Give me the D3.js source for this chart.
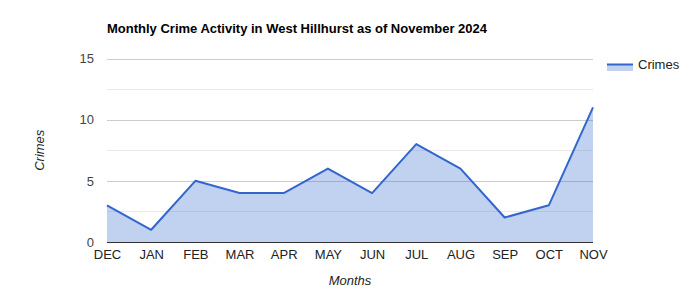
<!DOCTYPE html>
<html><head><meta charset="utf-8">
<script src="https://cdn.jsdelivr.net/npm/d3@7"></script>
<style>body{margin:0;background:#fff}svg{display:block;font-family:"Liberation Sans",Arial,sans-serif}</style>
</head><body><svg id="c" width="700" height="300"></svg>
<script>
const months = ["DEC","JAN","FEB","MAR","APR","MAY","JUN","JUL","AUG","SEP","OCT","NOV"];
const crimes = [3,1,5,4,4,6,4,8,6,2,3,11];
const yTicks = [0,5,10,15];
const yMinor = [2.5,7.5,12.5];
const seriesName = "Crimes";
const titleText = "Monthly Crime Activity in West Hillhurst as of November 2024";

const svg = d3.select("#c");
const L=107, R=593, T=58.5, B=242;
const x = d3.scalePoint().domain(months).range([L,R]);
const y = d3.scaleLinear().domain([0,15]).range([B,T]);

svg.append("text").attr("x",107).attr("y",33).attr("font-size",13).attr("font-weight","bold").attr("fill","#000").text(titleText);

svg.selectAll(".minor").data(yMinor).join("line")
  .attr("x1",L).attr("x2",R).attr("y1",d=>Math.round(y(d))+0.5).attr("y2",d=>Math.round(y(d))+0.5)
  .attr("stroke","#ebebeb").attr("stroke-width",1);
svg.selectAll(".major").data(yTicks.filter(d=>d>0)).join("line")
  .attr("x1",L).attr("x2",R).attr("y1",d=>Math.round(y(d))+0.5).attr("y2",d=>Math.round(y(d))+0.5)
  .attr("stroke","#cccccc").attr("stroke-width",1);

const data = months.map((m,i)=>({m,v:crimes[i]}));
svg.append("path").datum(data)
  .attr("d",d3.area().x(d=>x(d.m)).y0(B).y1(d=>y(d.v)))
  .attr("fill","#3366cc").attr("fill-opacity",0.3);
svg.append("path").datum(data)
  .attr("d",d3.line().x(d=>x(d.m)).y(d=>y(d.v)))
  .attr("fill","none").attr("stroke","#3366cc").attr("stroke-width",2).attr("stroke-linejoin","round");

svg.append("line").attr("x1",L).attr("x2",R).attr("y1",B+0.5).attr("y2",B+0.5).attr("stroke","#333").attr("stroke-width",1);

const yAxis = d3.axisLeft(y).tickValues(yTicks).tickSize(0).tickPadding(13);
const ga = svg.append("g").attr("transform",`translate(${L},0)`).call(yAxis);
ga.select(".domain").remove();
ga.selectAll("text").attr("font-size",13).attr("fill","#444").attr("font-family","Liberation Sans, Arial, sans-serif");

const xAxis = d3.axisBottom(x).tickSize(0).tickPadding(8);
const gx = svg.append("g").attr("transform",`translate(0,${B})`).call(xAxis);
gx.select(".domain").remove();
gx.selectAll("text").attr("font-size",13).attr("fill","#222").attr("font-family","Liberation Sans, Arial, sans-serif");

svg.append("text").attr("x",(L+R)/2).attr("y",285).attr("text-anchor","middle").attr("font-size",13).attr("font-style","italic").attr("fill","#222").text("Months");
svg.append("text").attr("transform",`translate(44,${(T+B)/2}) rotate(-90)`).attr("text-anchor","middle").attr("font-size",13).attr("font-style","italic").attr("fill","#222").text(seriesName);

// legend
svg.append("rect").attr("x",607).attr("y",64).attr("width",26).attr("height",7).attr("fill","#3366cc").attr("fill-opacity",0.3);
svg.append("line").attr("x1",607).attr("x2",633).attr("y1",64.5).attr("y2",64.5).attr("stroke","#3366cc").attr("stroke-width",2);
svg.append("text").attr("x",638).attr("y",69).attr("font-size",13).attr("fill","#222").text(seriesName);
</script></body></html>
